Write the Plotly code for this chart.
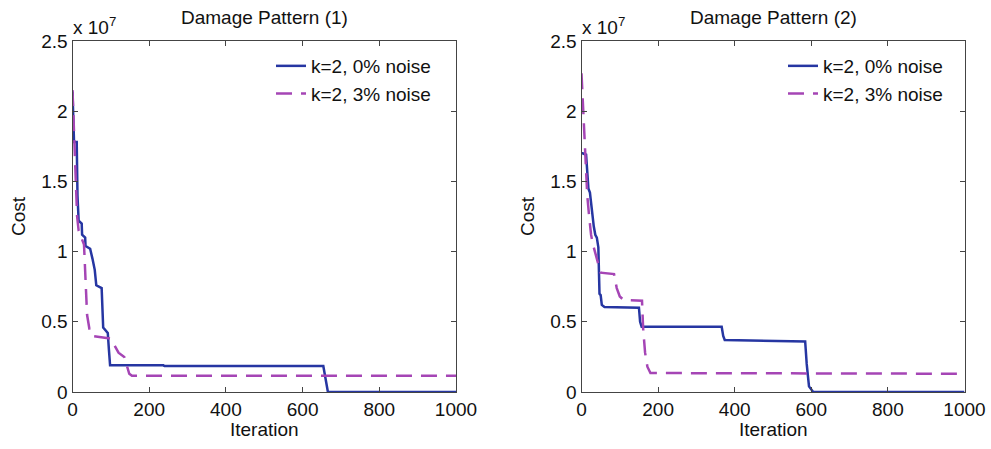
import plotly.graph_objects as go

# ---- data (cost values in units of 1e7) ----
iter_blue_1 = [0, 2, 4, 11, 13, 16, 24, 25, 33, 34, 46, 52, 58, 62, 76, 80, 92, 95, 98, 237, 240, 654, 660, 666, 1000]
cost_blue_1 = [2.14, 1.9, 1.78, 1.78, 1.4, 1.22, 1.2, 1.12, 1.1, 1.04, 1.02, 0.95, 0.87, 0.76, 0.74, 0.46, 0.42, 0.30, 0.19, 0.19, 0.185, 0.185, 0.08, 0, 0]

iter_purple_1 = [0, 4, 8, 12, 16, 22, 30, 34, 38, 44, 50, 100, 110, 120, 135, 148, 155, 1000]
cost_purple_1 = [2.15, 1.85, 1.5, 1.25, 1.15, 1.1, 1.05, 0.8, 0.55, 0.45, 0.40, 0.38, 0.33, 0.28, 0.25, 0.13, 0.115, 0.115]

iter_blue_2 = [0, 3, 12, 14, 18, 22, 28, 32, 36, 40, 44, 47, 50, 53, 60, 150, 153, 157, 366, 370, 374, 584, 588, 594, 605, 1000]
cost_blue_2 = [1.70, 1.70, 1.69, 1.58, 1.45, 1.42, 1.25, 1.18, 1.12, 1.10, 1.03, 0.70, 0.69, 0.62, 0.605, 0.60, 0.5, 0.465, 0.465, 0.40, 0.37, 0.36, 0.2, 0.04, 0, 0]

iter_purple_2 = [0, 3, 6, 10, 15, 20, 25, 30, 38, 45, 50, 85, 92, 100, 110, 158, 161, 166, 172, 180, 1000]
cost_purple_2 = [2.27, 2.1, 1.85, 1.6, 1.4, 1.25, 1.12, 1.05, 0.97, 0.88, 0.85, 0.84, 0.74, 0.68, 0.655, 0.65, 0.45, 0.28, 0.18, 0.135, 0.13]

series_names = ["k=2, 0% noise", "k=2, 3% noise"]
titles = ["Damage Pattern (1)", "Damage Pattern (2)"]
x_ticks = [0, 200, 400, 600, 800, 1000]
y_ticks = [0, 0.5, 1, 1.5, 2, 2.5]
y_tick_text = ["0", "0.5", "1", "1.5", "2", "2.5"]

BLUE = "#2636a2"
PURPLE = "#a545b5"
FONT = "Liberation Sans, Arial, sans-serif"
FS = 19

W, H = 991, 449
def px(x): return x / W
def py(y): return 1 - y / H

fig = go.Figure()

panels = [
    (iter_blue_1, cost_blue_1, iter_purple_1, cost_purple_1, "x", "y", "legend"),
    (iter_blue_2, cost_blue_2, iter_purple_2, cost_purple_2, "x2", "y2", "legend2"),
]
for xb, yb, xp, yp, xa, ya, lg in panels:
    fig.add_trace(go.Scatter(x=xb, y=yb, mode="lines", name=series_names[0],
                             line=dict(color=BLUE, width=2.5), xaxis=xa, yaxis=ya, legend=lg))
    fig.add_trace(go.Scatter(x=xp, y=yp, mode="lines", name=series_names[1],
                             line=dict(color=PURPLE, width=2.5, dash="16px,9px"),
                             xaxis=xa, yaxis=ya, legend=lg))

x_domains = [[px(72.5), px(456)], [px(581.5), px(964.5)]]
y_domain = [py(392), py(41)]

axis_common = dict(showgrid=False, zeroline=False, showline=True, linecolor="#444",
                   linewidth=1, mirror="ticks", ticks="inside", ticklen=5, tickcolor="#444",
                   automargin=False,
                   tickfont=dict(family=FONT, size=FS, color="#111"))

fig.update_layout(
    template="none",
    width=W, height=H, margin=dict(l=0, r=0, t=0, b=0, pad=0),
    paper_bgcolor="white", plot_bgcolor="white",
    font=dict(family=FONT, size=FS, color="#111"),
    xaxis=dict(domain=x_domains[0], range=[0, 1000], tickvals=x_ticks, anchor="y", **axis_common),
    yaxis=dict(domain=y_domain, range=[0, 2.5], tickvals=y_ticks, ticktext=y_tick_text, anchor="x", **axis_common),
    xaxis2=dict(domain=x_domains[1], range=[0, 1000], tickvals=x_ticks, anchor="y2", **axis_common),
    yaxis2=dict(domain=y_domain, range=[0, 2.5], tickvals=y_ticks, ticktext=y_tick_text, anchor="x2", **axis_common),
    legend=dict(x=px(271), y=py(47), xanchor="left", yanchor="top", bgcolor="rgba(0,0,0,0)",
                font=dict(family=FONT, size=FS, color="#111"), tracegroupgap=0, borderwidth=0),
    legend2=dict(x=px(783), y=py(47), xanchor="left", yanchor="top", bgcolor="rgba(0,0,0,0)",
                 font=dict(family=FONT, size=FS, color="#111"), tracegroupgap=0, borderwidth=0),
    showlegend=True,
)

centers = [(72.5 + 456) / 2, (581.5 + 964.5) / 2]
left_edges = [72.5, 581.5]
cost_x = [18, 527]
for i in range(2):
    fig.add_annotation(x=px(centers[i]), y=py(18), xref="paper", yref="paper", text=titles[i],
                       xanchor="center", yanchor="middle",
                       showarrow=False, font=dict(family=FONT, size=FS, color="#111"))
    fig.add_annotation(x=px(left_edges[i] - 2), y=py(26), xref="paper", yref="paper",
                       xanchor="left", yanchor="middle",
                       text="x 10<sup>7</sup>", showarrow=False, font=dict(family=FONT, size=FS, color="#111"))
    fig.add_annotation(x=px(centers[i]), y=py(429), xref="paper", yref="paper", text="Iteration",
                       xanchor="center", yanchor="middle",
                       showarrow=False, font=dict(family=FONT, size=FS, color="#111"))
    fig.add_annotation(x=px(cost_x[i]), y=py(216), xref="paper", yref="paper", text="Cost",
                       xanchor="center", yanchor="middle",
                       textangle=-90, showarrow=False, font=dict(family=FONT, size=FS, color="#111"))

fig.write_html("out.html")
